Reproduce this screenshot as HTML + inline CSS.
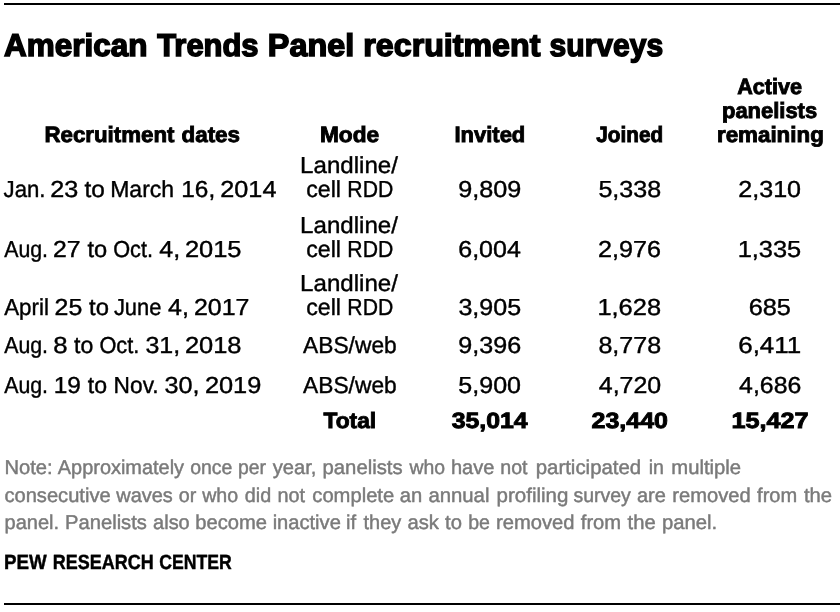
<!DOCTYPE html>
<html lang="en">
<head>
<meta charset="utf-8">
<title>American Trends Panel recruitment surveys</title>
<style>
html,body{margin:0;padding:0;background:#fff;}
body{width:840px;height:612px;overflow:hidden;}
svg{display:block;}
text{font-family:"Liberation Sans",Arial,sans-serif;text-rendering:geometricPrecision;stroke-linejoin:miter;stroke-miterlimit:2;fill:#000;stroke:#000;}
.b{font-weight:700;}
.g{fill:#7a7a7a;stroke:#7a7a7a;}
</style>
</head>
<body>
<svg width="840" height="612" viewBox="0 0 840 612" role="img" aria-label="American Trends Panel recruitment surveys">
<rect x="4" y="3" width="836" height="2" fill="#000"/>
<g id="title">
<text class="b" font-size="31.54" stroke-width="1.50" transform="translate(4.11,56) scale(0.9981,1)">American</text>
<text class="b" font-size="31.54" stroke-width="1.50" transform="translate(157.18,56) scale(0.9802,1)">Trends</text>
<text class="b" font-size="31.54" stroke-width="1.50" transform="translate(267.84,56) scale(1.0268,1)">Panel</text>
<text class="b" font-size="31.54" stroke-width="1.50" transform="translate(363.34,56) scale(1.0207,1)">recruitment</text>
<text class="b" font-size="31.54" stroke-width="1.50" transform="translate(549.59,56) scale(0.9525,1)">surveys</text>
</g>
<g id="head">
<text class="b" font-size="22.09" stroke-width="0.90" transform="translate(44.42,142) scale(1.0094,1)">Recruitment</text>
<text class="b" font-size="22.09" stroke-width="0.90" transform="translate(181.52,142) scale(1.0142,1)">dates</text>
<text class="b" font-size="22.09" stroke-width="0.90" transform="translate(319.99,142) scale(1.0259,1)">Mode</text>
<text class="b" font-size="22.09" stroke-width="0.90" transform="translate(454.45,142) scale(0.9957,1)">Invited</text>
<text class="b" font-size="22.09" stroke-width="0.90" transform="translate(596.27,142) scale(0.9394,1)">Joined</text>
<text class="b" font-size="22.09" stroke-width="0.90" transform="translate(737.26,94) scale(0.9773,1)">Active</text>
<text class="b" font-size="22.09" stroke-width="0.90" transform="translate(721.97,118) scale(0.9943,1)">panelists</text>
<text class="b" font-size="22.09" stroke-width="0.90" transform="translate(716.93,142) scale(1.0128,1)">remaining</text>
</g>
<g id="row1">
<text font-size="23.11" stroke-width="0.40" transform="translate(3.54,197) scale(0.9595,1)">Jan.</text>
<text font-size="23.11" stroke-width="0.40" transform="translate(50.30,197) scale(1.0897,1)">23</text>
<text font-size="23.11" stroke-width="0.40" transform="translate(84.50,197) scale(1.0565,1)">to</text>
<text font-size="23.11" stroke-width="0.40" transform="translate(110.20,197) scale(0.9955,1)">March</text>
<text font-size="23.11" stroke-width="0.40" transform="translate(181.28,197) scale(1.0546,1)">16,</text>
<text font-size="23.11" stroke-width="0.40" transform="translate(220.30,197) scale(1.0921,1)">2014</text>
<text font-size="23.11" stroke-width="0.40" transform="translate(300.12,173) scale(1.0427,1)">Landline/</text>
<text font-size="23.11" stroke-width="0.40" transform="translate(306.21,197) scale(1.0021,1)">cell</text>
<text font-size="23.11" stroke-width="0.40" transform="translate(347.33,197) scale(0.9165,1)">RDD</text>
<text font-size="23.11" stroke-width="0.40" transform="translate(458.28,197) scale(1.0910,1)">9,809</text>
<text font-size="23.11" stroke-width="0.40" transform="translate(598.40,197) scale(1.0852,1)">5,338</text>
<text font-size="23.11" stroke-width="0.40" transform="translate(738.31,197) scale(1.0848,1)">2,310</text>
</g>
<g id="row2">
<text font-size="23.11" stroke-width="0.40" transform="translate(4.15,257) scale(0.9230,1)">Aug.</text>
<text font-size="23.11" stroke-width="0.40" transform="translate(53.11,257) scale(1.0710,1)">27</text>
<text font-size="23.11" stroke-width="0.40" transform="translate(87.41,257) scale(1.0235,1)">to</text>
<text font-size="23.11" stroke-width="0.40" transform="translate(113.22,257) scale(0.9394,1)">Oct.</text>
<text font-size="23.11" stroke-width="0.40" transform="translate(159.18,257) scale(1.0852,1)">4,</text>
<text font-size="23.11" stroke-width="0.40" transform="translate(184.88,257) scale(1.1013,1)">2015</text>
<text font-size="23.11" stroke-width="0.40" transform="translate(300.12,233) scale(1.0427,1)">Landline/</text>
<text font-size="23.11" stroke-width="0.40" transform="translate(306.21,257) scale(1.0021,1)">cell</text>
<text font-size="23.11" stroke-width="0.40" transform="translate(347.33,257) scale(0.9165,1)">RDD</text>
<text font-size="23.11" stroke-width="0.40" transform="translate(458.24,257) scale(1.0822,1)">6,004</text>
<text font-size="23.11" stroke-width="0.40" transform="translate(598.09,257) scale(1.0886,1)">2,976</text>
<text font-size="23.11" stroke-width="0.40" transform="translate(737.64,257) scale(1.0992,1)">1,335</text>
</g>
<g id="row3">
<text font-size="23.11" stroke-width="0.40" transform="translate(4.14,315) scale(0.9669,1)">April</text>
<text font-size="23.11" stroke-width="0.40" transform="translate(54.56,315) scale(1.0782,1)">25</text>
<text font-size="23.11" stroke-width="0.40" transform="translate(89.03,315) scale(1.0319,1)">to</text>
<text font-size="23.11" stroke-width="0.40" transform="translate(113.90,315) scale(0.9480,1)">June</text>
<text font-size="23.11" stroke-width="0.40" transform="translate(168.12,315) scale(1.0823,1)">4,</text>
<text font-size="23.11" stroke-width="0.40" transform="translate(193.97,315) scale(1.0779,1)">2017</text>
<text font-size="23.11" stroke-width="0.40" transform="translate(300.12,291) scale(1.0427,1)">Landline/</text>
<text font-size="23.11" stroke-width="0.40" transform="translate(306.21,315) scale(1.0021,1)">cell</text>
<text font-size="23.11" stroke-width="0.40" transform="translate(347.33,315) scale(0.9165,1)">RDD</text>
<text font-size="23.11" stroke-width="0.40" transform="translate(458.41,315) scale(1.0847,1)">3,905</text>
<text font-size="23.11" stroke-width="0.40" transform="translate(597.43,315) scale(1.0997,1)">1,628</text>
<text font-size="23.11" stroke-width="0.40" transform="translate(748.69,315) scale(1.0955,1)">685</text>
</g>
<g id="row4">
<text font-size="23.11" stroke-width="0.40" transform="translate(4.15,353) scale(0.9230,1)">Aug.</text>
<text font-size="23.11" stroke-width="0.40" transform="translate(53.34,353) scale(1.1140,1)">8</text>
<text font-size="23.11" stroke-width="0.40" transform="translate(74.02,353) scale(0.9987,1)">to</text>
<text font-size="23.11" stroke-width="0.40" transform="translate(99.42,353) scale(0.9411,1)">Oct.</text>
<text font-size="23.11" stroke-width="0.40" transform="translate(145.42,353) scale(1.0813,1)">31,</text>
<text font-size="23.11" stroke-width="0.40" transform="translate(184.88,353) scale(1.1019,1)">2018</text>
<text font-size="23.11" stroke-width="0.40" transform="translate(303.10,353) scale(0.9845,1)">ABS/web</text>
<text font-size="23.11" stroke-width="0.40" transform="translate(458.30,353) scale(1.0879,1)">9,396</text>
<text font-size="23.11" stroke-width="0.40" transform="translate(598.41,353) scale(1.0851,1)">8,778</text>
<text font-size="23.11" stroke-width="0.40" transform="translate(738.20,353) scale(1.1245,1)">6,411</text>
</g>
<g id="row5">
<text font-size="23.11" stroke-width="0.40" transform="translate(4.15,393) scale(0.9230,1)">Aug.</text>
<text font-size="23.11" stroke-width="0.40" transform="translate(53.70,393) scale(1.0584,1)">19</text>
<text font-size="23.11" stroke-width="0.40" transform="translate(87.80,393) scale(1.0000,1)">to</text>
<text font-size="23.11" stroke-width="0.40" transform="translate(113.61,393) scale(0.9837,1)">Nov.</text>
<text font-size="23.11" stroke-width="0.40" transform="translate(164.43,393) scale(1.0900,1)">30,</text>
<text font-size="23.11" stroke-width="0.40" transform="translate(204.88,393) scale(1.0988,1)">2019</text>
<text font-size="23.11" stroke-width="0.40" transform="translate(303.10,393) scale(0.9845,1)">ABS/web</text>
<text font-size="23.11" stroke-width="0.40" transform="translate(458.30,393) scale(1.0850,1)">5,900</text>
<text font-size="23.11" stroke-width="0.40" transform="translate(598.78,393) scale(1.0792,1)">4,720</text>
<text font-size="23.11" stroke-width="0.40" transform="translate(739.12,393) scale(1.0743,1)">4,686</text>
</g>
<g id="total">
<text class="b" font-size="22.09" stroke-width="0.90" transform="translate(323.51,428) scale(1.0293,1)">Total</text>
<text class="b" font-size="22.09" stroke-width="0.90" transform="translate(451.63,428) scale(1.1247,1)">35,014</text>
<text class="b" font-size="22.09" stroke-width="0.90" transform="translate(591.50,428) scale(1.1319,1)">23,440</text>
<text class="b" font-size="22.09" stroke-width="0.90" transform="translate(731.48,428) scale(1.1402,1)">15,427</text>
</g>
<g id="note1">
<text class="g" font-size="20.00" stroke-width="0.45" transform="translate(4.45,474) scale(1.0074,1)">Note:</text>
<text class="g" font-size="20.00" stroke-width="0.45" transform="translate(57.80,474) scale(0.9963,1)">Approximately</text>
<text class="g" font-size="20.00" stroke-width="0.45" transform="translate(190.16,474) scale(0.9729,1)">once</text>
<text class="g" font-size="20.00" stroke-width="0.45" transform="translate(237.97,474) scale(0.9692,1)">per</text>
<text class="g" font-size="20.00" stroke-width="0.45" transform="translate(272.76,474) scale(1.0072,1)">year,</text>
<text class="g" font-size="20.00" stroke-width="0.45" transform="translate(322.53,474) scale(1.0145,1)">panelists</text>
<text class="g" font-size="20.00" stroke-width="0.45" transform="translate(409.40,474) scale(0.9700,1)">who</text>
<text class="g" font-size="20.00" stroke-width="0.45" transform="translate(450.90,474) scale(1.0021,1)">have</text>
<text class="g" font-size="20.00" stroke-width="0.45" transform="translate(500.24,474) scale(0.9798,1)">not</text>
<text class="g" font-size="20.00" stroke-width="0.45" transform="translate(535.71,474) scale(1.0203,1)">participated</text>
<text class="g" font-size="20.00" stroke-width="0.45" transform="translate(648.76,474) scale(0.9799,1)">in</text>
<text class="g" font-size="20.00" stroke-width="0.45" transform="translate(671.29,474) scale(1.0129,1)">multiple</text>
</g>
<g id="note2">
<text class="g" font-size="20.00" stroke-width="0.45" transform="translate(4.45,502) scale(1.0054,1)">consecutive</text>
<text class="g" font-size="20.00" stroke-width="0.45" transform="translate(116.29,502) scale(0.9967,1)">waves</text>
<text class="g" font-size="20.00" stroke-width="0.45" transform="translate(178.87,502) scale(0.9861,1)">or</text>
<text class="g" font-size="20.00" stroke-width="0.45" transform="translate(202.17,502) scale(0.9795,1)">who</text>
<text class="g" font-size="20.00" stroke-width="0.45" transform="translate(244.84,502) scale(0.9885,1)">did</text>
<text class="g" font-size="20.00" stroke-width="0.45" transform="translate(277.53,502) scale(0.9926,1)">not</text>
<text class="g" font-size="20.00" stroke-width="0.45" transform="translate(312.29,502) scale(1.0094,1)">complete</text>
<text class="g" font-size="20.00" stroke-width="0.45" transform="translate(399.84,502) scale(1.0095,1)">an</text>
<text class="g" font-size="20.00" stroke-width="0.45" transform="translate(428.39,502) scale(1.0166,1)">annual</text>
<text class="g" font-size="20.00" stroke-width="0.45" transform="translate(496.59,502) scale(1.0250,1)">profiling</text>
<text class="g" font-size="20.00" stroke-width="0.45" transform="translate(573.39,502) scale(0.9735,1)">survey</text>
<text class="g" font-size="20.00" stroke-width="0.45" transform="translate(636.92,502) scale(0.9996,1)">are</text>
<text class="g" font-size="20.00" stroke-width="0.45" transform="translate(672.30,502) scale(1.0066,1)">removed</text>
<text class="g" font-size="20.00" stroke-width="0.45" transform="translate(757.09,502) scale(1.0017,1)">from</text>
<text class="g" font-size="20.00" stroke-width="0.45" transform="translate(803.91,502) scale(1.0118,1)">the</text>
</g>
<g id="note3">
<text class="g" font-size="20.00" stroke-width="0.45" transform="translate(4.52,529) scale(1.0016,1)">panel.</text>
<text class="g" font-size="20.00" stroke-width="0.45" transform="translate(65.04,529) scale(1.0087,1)">Panelists</text>
<text class="g" font-size="20.00" stroke-width="0.45" transform="translate(153.09,529) scale(0.9984,1)">also</text>
<text class="g" font-size="20.00" stroke-width="0.45" transform="translate(195.32,529) scale(1.0078,1)">become</text>
<text class="g" font-size="20.00" stroke-width="0.45" transform="translate(272.64,529) scale(1.0055,1)">inactive</text>
<text class="g" font-size="20.00" stroke-width="0.45" transform="translate(346.00,529) scale(1.0102,1)">if</text>
<text class="g" font-size="20.00" stroke-width="0.45" transform="translate(363.57,529) scale(0.9975,1)">they</text>
<text class="g" font-size="20.00" stroke-width="0.45" transform="translate(407.43,529) scale(1.0122,1)">ask</text>
<text class="g" font-size="20.00" stroke-width="0.45" transform="translate(445.09,529) scale(1.0122,1)">to</text>
<text class="g" font-size="20.00" stroke-width="0.45" transform="translate(468.22,529) scale(0.9781,1)">be</text>
<text class="g" font-size="20.00" stroke-width="0.45" transform="translate(495.96,529) scale(1.0090,1)">removed</text>
<text class="g" font-size="20.00" stroke-width="0.45" transform="translate(580.80,529) scale(1.0079,1)">from</text>
<text class="g" font-size="20.00" stroke-width="0.45" transform="translate(627.62,529) scale(1.0109,1)">the</text>
<text class="g" font-size="20.00" stroke-width="0.45" transform="translate(661.95,529) scale(1.0135,1)">panel.</text>
</g>
<g id="source">
<text class="b" font-size="20.57" stroke-width="0.45" transform="translate(4.09,569) scale(0.9121,1)">PEW</text>
<text class="b" font-size="20.57" stroke-width="0.45" transform="translate(52.84,569) scale(0.8737,1)">RESEARCH</text>
<text class="b" font-size="20.57" stroke-width="0.45" transform="translate(159.33,569) scale(0.8579,1)">CENTER</text>
</g>
<rect x="4" y="603" width="836" height="2" fill="#000"/>
</svg>
</body>
</html>
